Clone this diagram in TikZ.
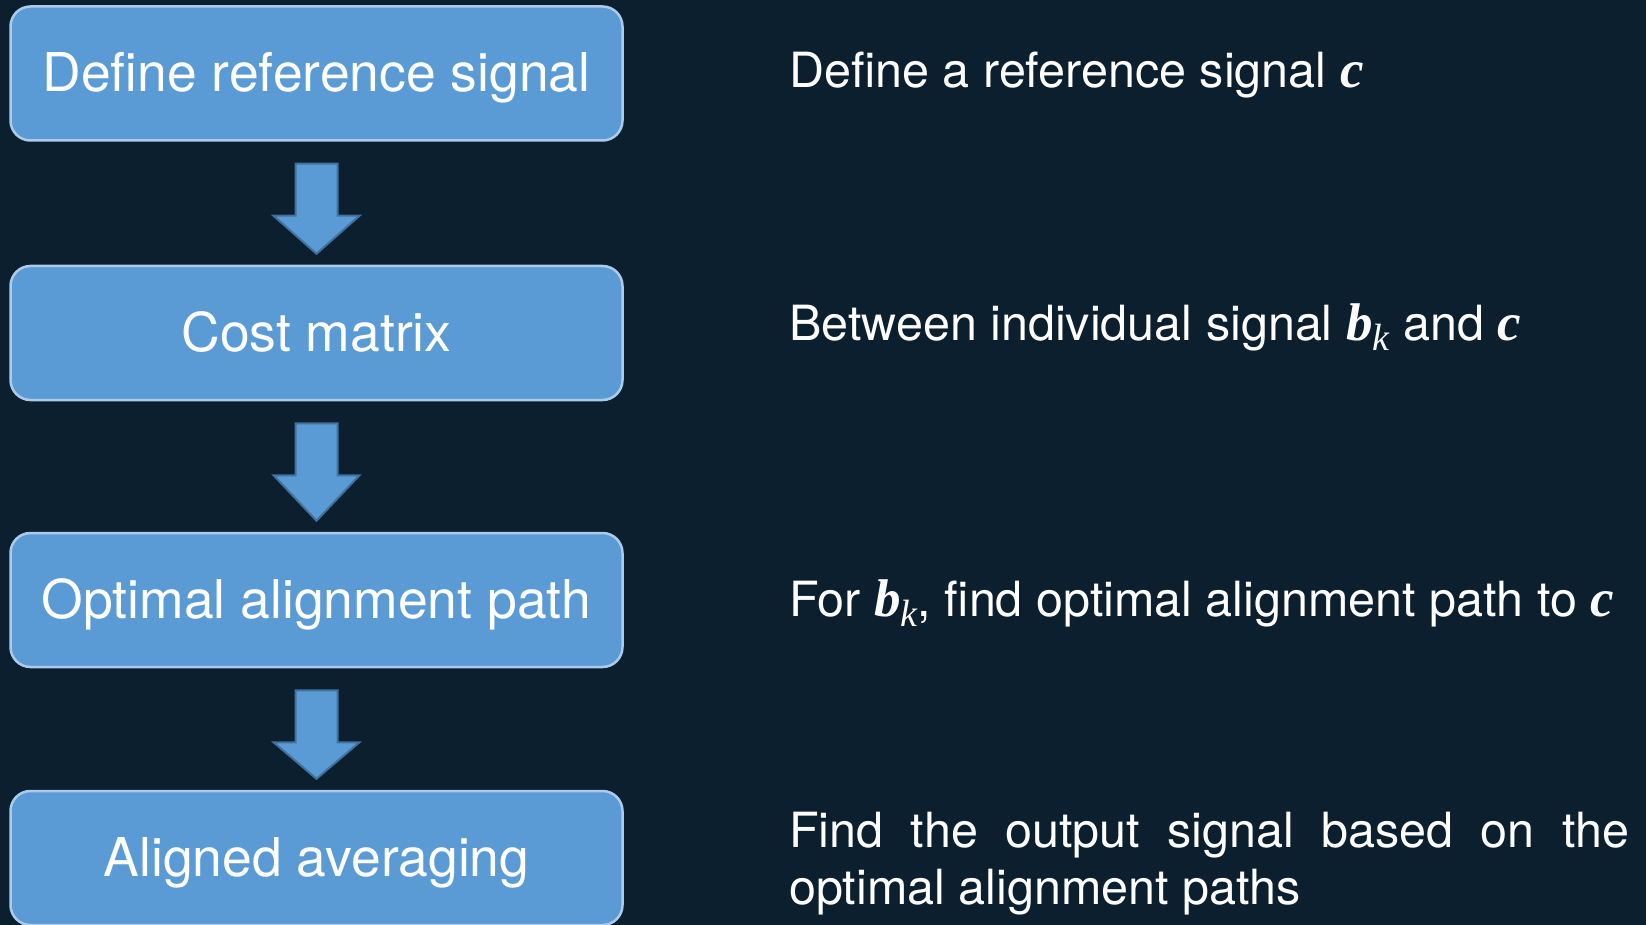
\documentclass[tikz,border=0pt]{standalone}
\usepackage{fontspec}
\setmainfont{TeX Gyre Heros}
\newfontfamily\mathfnt{Liberation Serif}
\usetikzlibrary{calc}
\definecolor{bg}{RGB}{11,31,46}
\definecolor{boxfill}{RGB}{91,155,213}
\definecolor{boxline}{RGB}{172,202,234}
\definecolor{arrline}{RGB}{65,113,156}
\newcommand{\symvar}[1]{{\fontsize{53}{57}\selectfont\mathfnt\bfseries\itshape #1}}
\newcommand{\subvar}[1]{\raisebox{-10pt}{\fontsize{38}{38}\selectfont\mathfnt\itshape #1}}
\tikzset{
  stepbox/.style={draw=boxline, line width=2.5pt, fill=boxfill, rounded corners=20pt,
    minimum width=612pt, minimum height=134pt, inner sep=0pt, text=white,
    font=\fontsize{53.5}{60}\selectfont, text height=37pt, text depth=0pt},
  desc/.style={anchor=base west, text=white, inner sep=0pt, font=\fontsize{48.5}{57}\selectfont},
  blockarrow/.style={fill=boxfill, draw=arrline, line width=2pt, line join=miter}
}
\newcommand{\downarrowshape}[2]{%
  \draw[blockarrow] ($(#1.south)+(-21,22)$) -- ($(#1.south)+(21,22)$) -- ($(#1.south)+(21,74)$)
    -- ($(#1.south)+(43,74)$) -- ($(#2.north)+(0,-11)$) -- ($(#1.south)+(-43,74)$)
    -- ($(#1.south)+(-21,74)$) -- cycle;}
\begin{document}
\begin{tikzpicture}[x=1pt,y=-1pt]
\useasboundingbox (0,0) rectangle (1646,925);
\fill[bg] (0,0) rectangle (1646,925);
\node[stepbox] (b1) at (316.5,73.5) {Define reference signal};
\node[stepbox] (b2) at (316.5,333) {Cost matrix};
\node[stepbox] (b3) at (316.5,600) {Optimal alignment path};
\node[stepbox] (b4) at (316.5,858) {Aligned averaging};
\downarrowshape{b1}{b2}
\downarrowshape{b2}{b3}
\downarrowshape{b3}{b4}
\node[desc] (d1) at (789,88) {Define a reference signal \symvar{c}};
\node[desc] (d2) at (789,340) {Between individual signal \symvar{b}\subvar{k} and \symvar{c}};
\node[desc] (d3) at (789,616) {For \symvar{b}\subvar{k}, find optimal alignment path to \symvar{c}};
\node[desc, anchor=north west, text width=840pt, align=justify] (d4) at (789,812)
  {Find the output signal based on the\linebreak optimal alignment paths};
\end{tikzpicture}
\end{document}
